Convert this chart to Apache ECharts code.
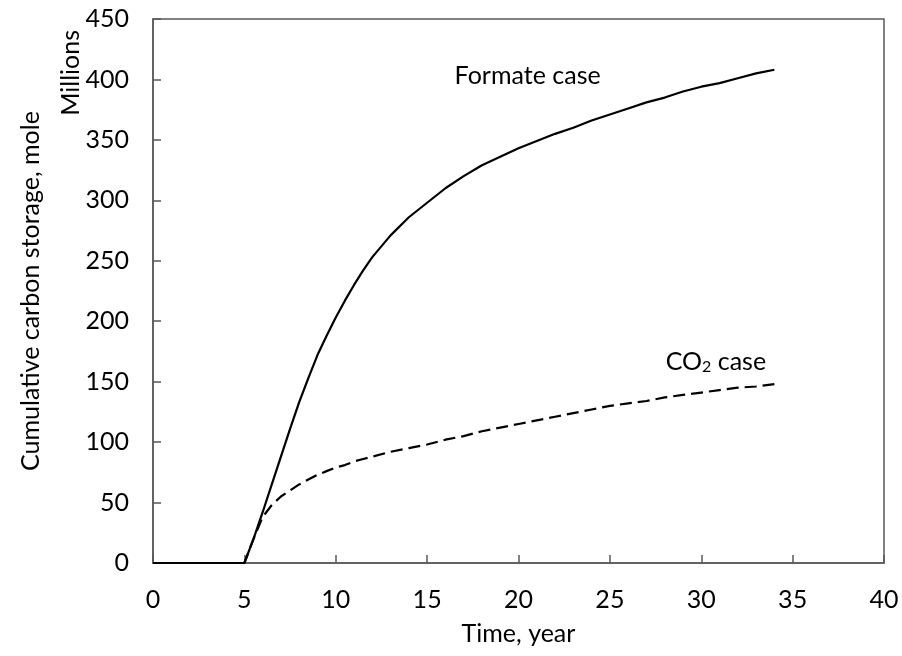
<!DOCTYPE html>
<html>
<head>
<meta charset="utf-8">
<script src="https://cdn.jsdelivr.net/npm/echarts@6/dist/echarts.min.js"></script>
<style>
  html, body { margin: 0; padding: 0; background: #fff; }
  #chart { width: 902px; height: 656px; }
</style>
</head>
<body>
<div id="chart"></div>
<script>
// Time axis, years (finer steps where the curves bend sharply)
const years = [0, 5, 5.5, 6, 6.5, 7, 7.5, 8, 8.5, 9, 9.5, 10, 10.5, 11, 11.5, 12, 13, 14, 15,
  16, 17, 18, 19, 20, 21, 22, 23, 24, 25, 26, 27, 28, 29, 30, 31, 32, 33, 34];

// Cumulative carbon storage, millions of moles
const formateCase = [0, 0, 20, 42, 65, 88, 111, 133, 153, 172, 188, 203, 217, 230, 242, 253,
  271, 286, 298, 310, 320, 329, 336, 343, 349, 355, 360, 366, 371, 376, 381, 385, 390, 394,
  397, 401, 405, 408];
const co2Case = [0, 0, 20, 38, 48, 55, 60, 65, 69, 73, 76, 79, 81, 84, 86, 88,
  92, 95, 98, 102, 105, 109, 112, 115, 118, 121, 124, 127, 130, 132, 134, 137, 139, 141,
  143, 145, 146, 148];

const xTicks = [0, 5, 10, 15, 20, 25, 30, 35, 40];
const yTicks = [0, 50, 100, 150, 200, 250, 300, 350, 400, 450];

const FONT = 'Lato';
const FS = 25;
const AXIS_COLOR = '#595959';

const pairs = (xs, ys) => xs.map((x, i) => [x, ys[i]]);

const chart = echarts.init(document.getElementById('chart'));
chart.setOption({
  animation: false,
  backgroundColor: '#ffffff',
  textStyle: { fontFamily: FONT },
  grid: {
    left: 153, right: 18, top: 19, bottom: 93,
    show: true, borderColor: AXIS_COLOR, borderWidth: 1.5
  },
  xAxis: {
    type: 'value',
    min: xTicks[0], max: xTicks[xTicks.length - 1], interval: 5,
    name: 'Time, year',
    nameLocation: 'middle',
    nameGap: 58,
    nameTextStyle: { fontFamily: FONT, fontSize: FS, color: '#000' },
    axisLine: { show: true, lineStyle: { color: AXIS_COLOR, width: 1.5 } },
    axisTick: { show: true, inside: true, length: 8, lineStyle: { color: AXIS_COLOR, width: 1.5 } },
    axisLabel: { fontFamily: FONT, fontSize: FS, color: '#000', margin: 24 },
    splitLine: { show: false }
  },
  yAxis: {
    type: 'value',
    min: yTicks[0], max: yTicks[yTicks.length - 1], interval: 50,
    name: 'Cumulative carbon storage, mole',
    nameLocation: 'middle',
    nameRotate: 90,
    nameGap: 110,
    nameTextStyle: { fontFamily: FONT, fontSize: FS, color: '#000' },
    axisLine: { show: true, lineStyle: { color: AXIS_COLOR, width: 1.5 } },
    axisTick: { show: true, inside: true, length: 8, lineStyle: { color: AXIS_COLOR, width: 1.5 } },
    axisLabel: { fontFamily: FONT, fontSize: FS, color: '#000', margin: 24 },
    splitLine: { show: false }
  },
  graphic: [{
    type: 'text',
    left: 58, top: 30,
    rotation: Math.PI / 2,
    style: { text: 'Millions', font: FS + 'px Lato', fill: '#000' }
  }],
  series: [
    {
      name: 'Formate case',
      type: 'line',
      data: pairs(years, formateCase),
      showSymbol: false,
      smooth: false,
      lineStyle: { color: '#000', width: 2.2 },
      markPoint: {
        symbol: 'circle', symbolSize: 0,
        label: {
          show: true, position: 'inside',
          formatter: 'Formate case',
          fontFamily: FONT, fontSize: FS, color: '#000'
        },
        data: [{ coord: [20.5, 403] }]
      }
    },
    {
      name: 'CO2 case',
      type: 'line',
      data: pairs(years, co2Case),
      showSymbol: false,
      smooth: false,
      lineStyle: { color: '#000', width: 2.2, type: [12, 6] },
      markPoint: {
        symbol: 'circle', symbolSize: 0,
        label: {
          show: true, position: 'inside',
          formatter: '{a|CO}{b|2}{a| case}',
          rich: {
            a: { fontFamily: FONT, fontSize: FS, color: '#000' },
            b: { fontFamily: FONT, fontSize: 16, color: '#000', padding: [9, 0, 0, 0] }
          }
        },
        data: [{ coord: [30.8, 166] }]
      }
    }
  ]
});
</script>
</body>
</html>
